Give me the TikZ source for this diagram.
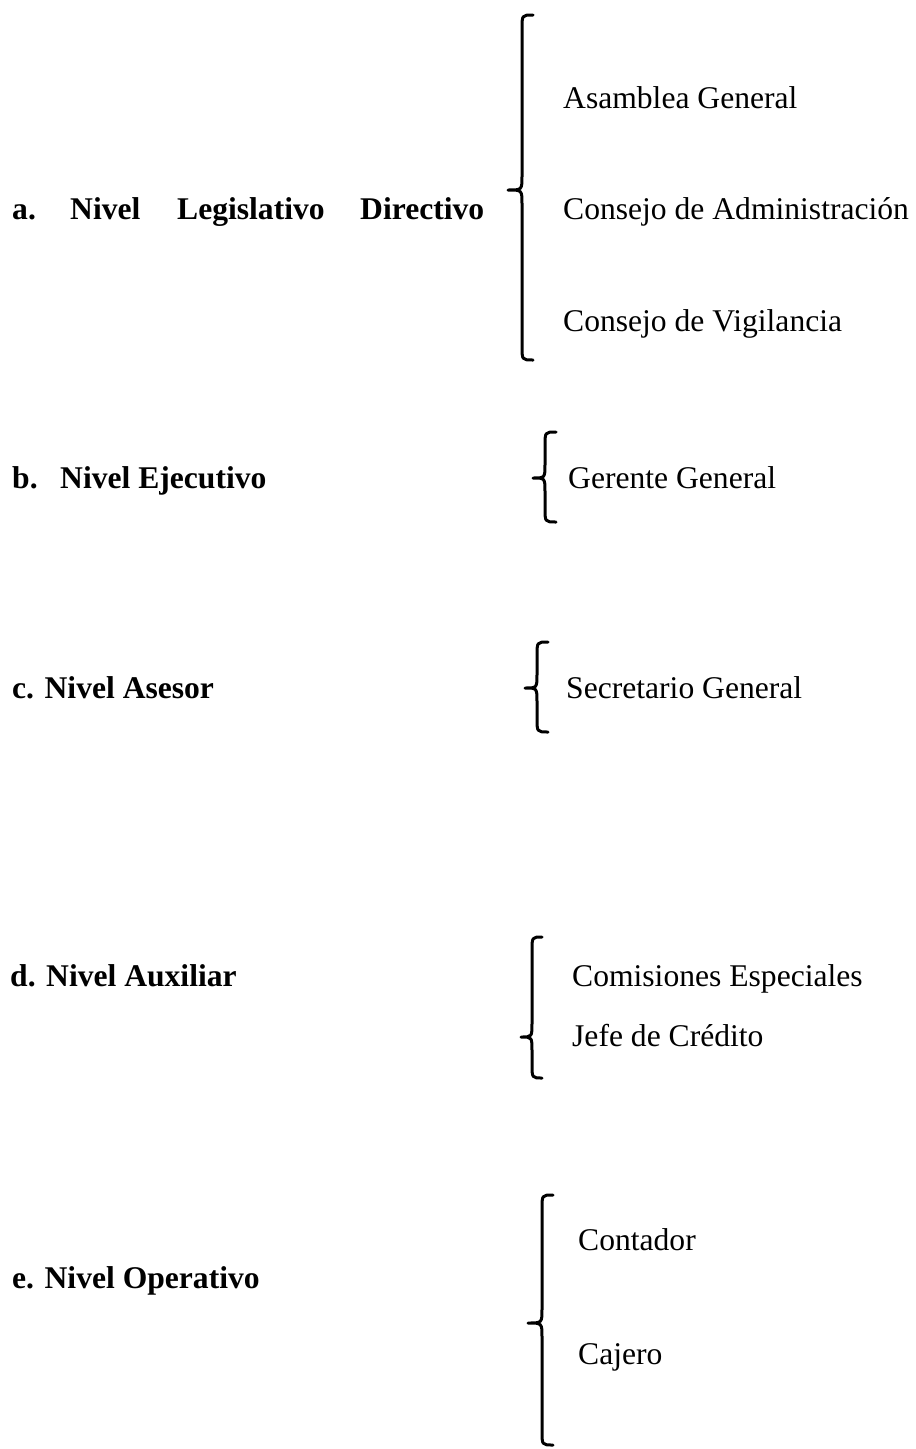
\documentclass[tikz,border=0pt]{standalone}
\usepackage{fontspec}
\setmainfont{Liberation Serif}
\newcommand\mybrace[6]{% tip, vert, end, top, mid, bottom
  \draw[bracestyle] (#3,#4) .. controls (#2,#4) .. (#2,#4+14) -- (#2,#5-14)
    .. controls (#2,#5) .. (#1,#5) .. controls (#2,#5) .. (#2,#5+14)
    -- (#2,#6-14) .. controls (#2,#6) .. (#3,#6);}
\begin{document}
\begin{tikzpicture}[x=1pt,y=-1pt,
  txt/.style={anchor=base west,inner sep=0pt,font=\fontsize{31.6}{38}\selectfont},
  btxt/.style={txt,font=\fontsize{31.6}{38}\selectfont\bfseries},
  bracestyle/.style={line width=3pt,line cap=round,line join=round}]
\useasboundingbox (0,0) rectangle (916,1449);
% a
\node[btxt] (aL) at (12,219) {a.};
\node[btxt] (aN) at (70,219) {Nivel};
\node[btxt] (aLe) at (177,219) {Legislativo};
\node[btxt] (aD) at (360,219) {Directivo};
\mybrace{508}{522}{533}{15}{190}{360}
\node[txt] (a1) at (563,108) {Asamblea General};
\node[txt] (a2) at (563,219) {Consejo de Administración};
\node[txt] (a3) at (563,331) {Consejo de Vigilancia};
% b
\node[btxt] (bL) at (12,488) {b.};
\node[btxt] (bN) at (60,488) {Nivel Ejecutivo};
\mybrace{533}{545}{556}{432}{478}{522}
\node[txt] (b1) at (568,488) {Gerente General};
% c
\node[btxt] (cN) at (12,698) {c. Nivel Asesor};
\mybrace{525}{537}{548}{642}{688}{732}
\node[txt] (c1) at (566,698) {Secretario General};
% d
\node[btxt] (dN) at (10,986) {d. Nivel Auxiliar};
\mybrace{521}{532}{542}{937}{1037}{1078}
\node[txt] (d1) at (572,986) {Comisiones Especiales};
\node[txt] (d2) at (572,1046) {Jefe de Crédito};
% e
\node[btxt] (eN) at (12,1288) {e. Nivel Operativo};
\mybrace{528}{542}{553}{1195}{1323}{1445}
\node[txt] (e1) at (578,1250) {Contador};
\node[txt] (e2) at (578,1364) {Cajero};
\end{tikzpicture}
\end{document}
